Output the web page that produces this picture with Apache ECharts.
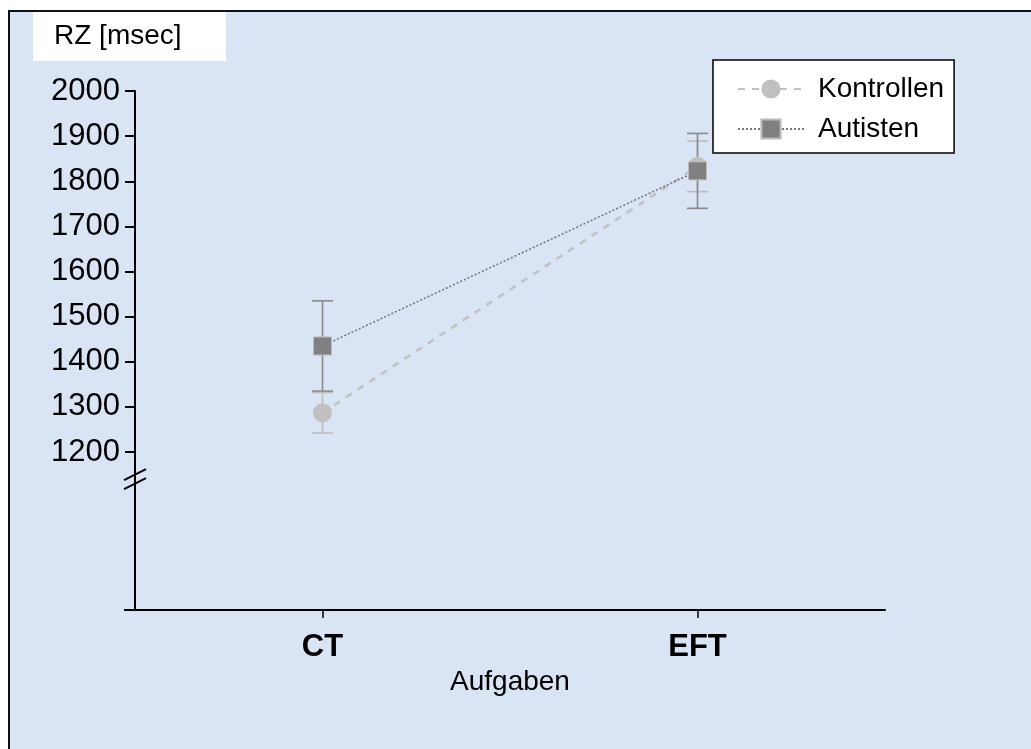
<!DOCTYPE html>
<html>
<head>
<meta charset="utf-8">
<script src="https://cdn.jsdelivr.net/npm/echarts@6/dist/echarts.min.js"></script>
<style>
  html, body { margin: 0; padding: 0; background: #ffffff; }
  #chart { width: 1031px; height: 749px; }
</style>
</head>
<body>
<div id="chart"></div>
<script>
// Reaction times (msec) per task, mean and error for each group
const categories = ['CT', 'EFT'];
const kontrollenMean = [1287, 1833];
const kontrollenErr = [45, 56];
const autistenMean = [1435, 1823];
const autistenErr = [100, 83];
const yTickValues = [1200, 1300, 1400, 1500, 1600, 1700, 1800, 1900, 2000];
const yMin = 850;
const yMax = 2000;
const breakValue = 1140;

const FONT = '"Liberation Sans", Arial, Helvetica, sans-serif';
const BG = '#d9e4f5';
const GRID = { left: 135, right: 146, top: 91, bottom: 139 };

function errorBarSeries(name, means, errs, color) {
  return {
    name: name,
    type: 'custom',
    z: 1,
    silent: true,
    encode: { x: 0, y: 1 },
    data: means.map((m, i) => [i, m, errs[i]]),
    renderItem: function (params, api) {
      const i = api.value(0);
      const m = api.value(1);
      const e = api.value(2);
      const hi = api.coord([i, m + e]);
      const lo = api.coord([i, m - e]);
      const hw = 10.5;
      const st = { stroke: color, lineWidth: 1.6 };
      return {
        type: 'group',
        children: [
          { type: 'line', shape: { x1: hi[0], y1: hi[1], x2: lo[0], y2: lo[1] }, style: st },
          { type: 'line', shape: { x1: hi[0] - hw, y1: hi[1], x2: hi[0] + hw, y2: hi[1] }, style: st },
          { type: 'line', shape: { x1: lo[0] - hw, y1: lo[1], x2: lo[0] + hw, y2: lo[1] }, style: st }
        ]
      };
    }
  };
}

const chart = echarts.init(document.getElementById('chart'), null, { renderer: 'canvas' });

const option = {
  backgroundColor: '#ffffff',
  animation: false,
  textStyle: { fontFamily: FONT },
  grid: {
    left: GRID.left, right: GRID.right, top: GRID.top, bottom: GRID.bottom,
    containLabel: false, outerBoundsMode: 'none'
  },
  legend: {
    data: ['Kontrollen', 'Autisten'],
    orient: 'vertical',
    left: 713,
    top: 60,
    backgroundColor: '#ffffff',
    borderColor: '#000000',
    borderWidth: 1.5,
    borderRadius: 0,
    padding: [15, 10, 10, 24],
    itemGap: 12,
    itemWidth: 66,
    itemHeight: 24,
    selectedMode: false,
    textStyle: { fontFamily: FONT, fontSize: 28, color: '#000000', padding: [0, 0, 0, 9] }
  },
  xAxis: {
    type: 'category',
    data: categories,
    boundaryGap: true,
    axisLine: { show: true, lineStyle: { color: '#000000', width: 2 } },
    axisTick: { show: true, alignWithLabel: true, length: 8, lineStyle: { color: '#000000', width: 1.5 } },
    axisLabel: { fontFamily: FONT, fontSize: 31, fontWeight: 'bold', color: '#000000', margin: 22 },
    splitLine: { show: false },
    name: 'Aufgaben',
    nameLocation: 'middle',
    nameGap: 54,
    nameTextStyle: { fontFamily: FONT, fontSize: 28, color: '#000000' }
  },
  yAxis: {
    type: 'value',
    min: yMin,
    max: yMax,
    axisLine: { show: true, lineStyle: { color: '#000000', width: 2 } },
    axisTick: { show: true, inside: false, length: 10, customValues: yTickValues,
                lineStyle: { color: '#000000', width: 2 } },
    axisLabel: { fontFamily: FONT, fontSize: 31, color: '#000000', margin: 15,
                 customValues: yTickValues,
                 formatter: (v) => String(v) },
    splitLine: { show: false }
  },
  series: [
    errorBarSeries('Kontrollen Fehler', kontrollenMean, kontrollenErr, '#bdbdbd'),
    errorBarSeries('Autisten Fehler', autistenMean, autistenErr, '#8a8a8a'),
    {
      name: 'Kontrollen',
      type: 'line',
      z: 3,
      data: kontrollenMean,
      symbol: 'circle',
      symbolSize: 19,
      itemStyle: { color: '#c0c0c0' },
      lineStyle: { color: '#c2c2c2', width: 2.6, type: [7, 7] }
    },
    {
      name: 'Autisten',
      type: 'line',
      z: 4,
      data: autistenMean,
      symbol: 'rect',
      symbolSize: 18,
      itemStyle: { color: '#808080', borderColor: '#bcbcbc', borderWidth: 1 },
      lineStyle: { color: '#7a7a7a', width: 1.6, type: [2, 2] }
    }
  ],
  graphic: [
    {
      id: 'panel', type: 'rect', z: -100, silent: true,
      shape: { x: 9, y: 11, width: 1100, height: 800 },
      style: { fill: BG, stroke: '#111111', lineWidth: 2 }
    },
    {
      id: 'titleBox', type: 'rect', z: -50, silent: true,
      shape: { x: 33, y: 12, width: 193, height: 49 },
      style: { fill: '#ffffff' }
    },
    {
      id: 'titleText', type: 'text', z: 5, silent: true,
      left: 54, top: 22,
      style: { text: 'RZ [msec]', fill: '#000000', font: '28px ' + FONT }
    }
  ]
};

chart.setOption(option);

// Axis break marks and the short overhang of the x axis line left of the y axis
const axisX = GRID.left;
const breakY = chart.convertToPixel({ yAxisIndex: 0 }, breakValue);
const baseY = chart.convertToPixel({ yAxisIndex: 0 }, yMin);
const slash = (dy) => ({
  type: 'line', z: 10, silent: true,
  shape: { x1: axisX - 11, y1: breakY + dy + 5.5, x2: axisX + 11, y2: breakY + dy - 5.5 },
  style: { stroke: '#000000', lineWidth: 2 }
});
chart.setOption({
  graphic: [
    { id: 'break1', ...slash(-4.5) },
    { id: 'break2', ...slash(4.5) },
    {
      id: 'xOverhang', type: 'line', z: 10, silent: true,
      shape: { x1: axisX - 11, y1: baseY, x2: axisX, y2: baseY },
      style: { stroke: '#000000', lineWidth: 2 }
    }
  ]
});
</script>
</body>
</html>
